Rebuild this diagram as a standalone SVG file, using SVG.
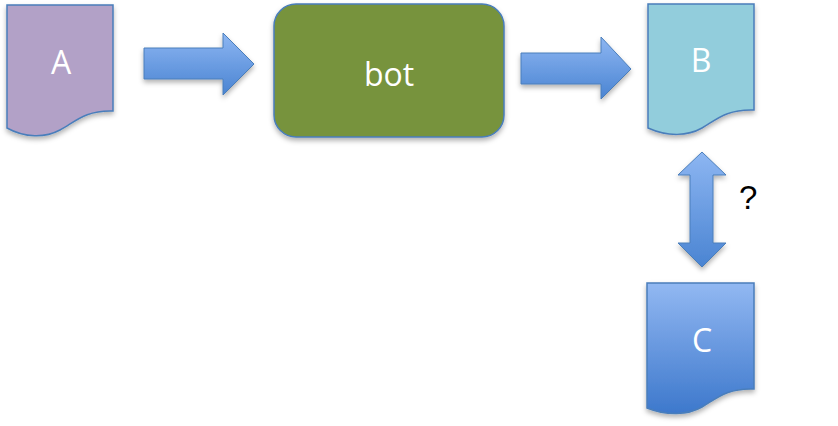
<svg xmlns="http://www.w3.org/2000/svg" width="838" height="426" viewBox="0 0 838 426">
<defs>
<linearGradient id="gArrow" x1="0" y1="0" x2="0" y2="1">
<stop offset="0" stop-color="#8DB6F2"/>
<stop offset="1" stop-color="#4A84D2"/>
</linearGradient>
<linearGradient id="gC" x1="0" y1="0" x2="0" y2="1">
<stop offset="0" stop-color="#92B8F2"/>
<stop offset="1" stop-color="#3D78CC"/>
</linearGradient>
<filter id="sh" x="-20%" y="-20%" width="140%" height="150%">
<feDropShadow dx="0" dy="3" stdDeviation="2.5" flood-color="#000" flood-opacity="0.3"/>
</filter>
</defs>
<style>
.shape{stroke:#4A7EBB;stroke-width:1.5;filter:url(#sh)}
.arrow{fill:url(#gArrow);stroke:#4A7EBB;stroke-width:1;filter:url(#sh)}
.lbl{font-family:"Open Sans","Noto Sans",sans-serif;font-size:32px;fill:#fff;text-anchor:middle}
.q{font-family:"Liberation Sans",Arial,sans-serif;font-size:33px;fill:#000}
</style>
<g id="connectors">
<path class="arrow" d="M144,48 H223 V33 L254,64 L223,95 V79 H144 Z"/>
<path class="arrow" d="M521,53 H601 V37 L631,69 L601,99 V84 H521 Z"/>
<path class="arrow" d="M702,152 L726,175 H713 V243 H726 L702,267 L678,243 H690 V175 H678 Z"/>
<text class="q" x="739" y="209">?</text>
</g>
<g id="nodeA">
<path class="shape" fill="#B2A1C7" d="M7,5 H113 V111 C85,110 75,122 60,130 C45,138 25,138 7,128 Z"/>
<text class="lbl" x="61" y="74">A</text>
</g>
<g id="nodeBot">
<rect class="shape" fill="#77933C" x="274" y="4" width="230" height="133" rx="22" ry="22"/>
<text class="lbl" x="389" y="86">bot</text>
</g>
<g id="nodeB">
<path class="shape" fill="#92CDDC" d="M648,4 H754 V110 C726,109 716,120 702,128 C688,136 668,137 648,128 Z"/>
<text class="lbl" x="701" y="72">B</text>
</g>
<g id="nodeC">
<path class="shape" fill="url(#gC)" d="M647,283 H754 V389 C726,388 716,399 702,407 C688,415 667,416 647,408 Z"/>
<text class="lbl" x="702" y="352">C</text>
</g>
</svg>
